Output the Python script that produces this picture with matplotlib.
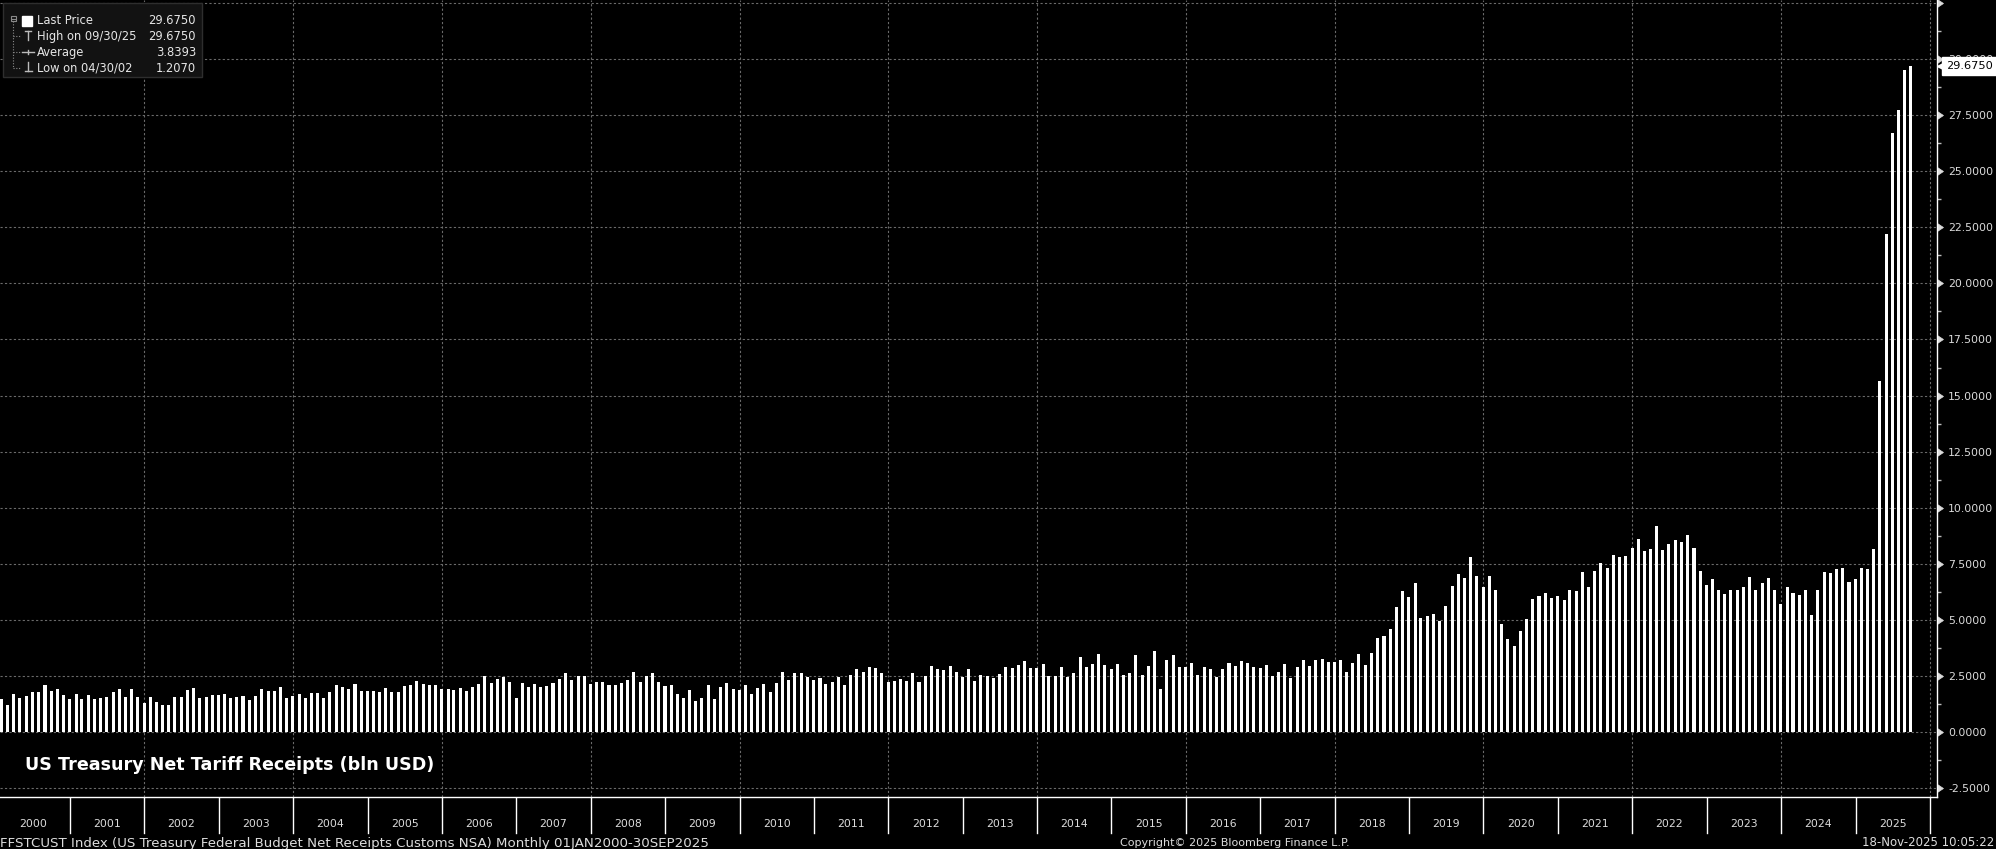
import numpy as np
import pandas as pd
import matplotlib
matplotlib.use("Agg")
import matplotlib.pyplot as plt
import matplotlib.dates as mdates
from matplotlib.ticker import MultipleLocator, FuncFormatter
from matplotlib.patches import Rectangle

# monthly net customs receipts, bln USD, Jan 2000 .. Sep 2025
vals_2000 = [1.48, 1.22, 1.71, 1.53, 1.62, 1.80, 1.80, 2.11, 1.84, 1.93, 1.66, 1.48]
vals_2001 = [1.71, 1.48, 1.66, 1.48, 1.53, 1.57, 1.80, 1.93, 1.57, 1.93, 1.57, 1.31]
vals_2002 = [1.57, 1.35, 1.24, 1.207, 1.57, 1.57, 1.89, 1.97, 1.53, 1.57, 1.66, 1.66]
vals_2003 = [1.71, 1.53, 1.57, 1.62, 1.44, 1.62, 1.93, 1.84, 1.84, 2.02, 1.53, 1.62]
vals_2004 = [1.71, 1.53, 1.75, 1.75, 1.53, 1.80, 2.11, 2.02, 1.93, 2.15, 1.84, 1.84]
vals_2005 = [1.84, 1.80, 1.97, 1.80, 1.80, 2.06, 2.11, 2.29, 2.15, 2.11, 2.11, 1.93]
vals_2006 = [1.93, 1.89, 1.97, 1.84, 2.02, 2.15, 2.51, 2.20, 2.38, 2.46, 2.24, 1.53]
vals_2007 = [2.20, 2.02, 2.15, 2.02, 2.06, 2.20, 2.38, 2.64, 2.33, 2.51, 2.51, 2.15]
vals_2008 = [2.24, 2.24, 2.11, 2.11, 2.20, 2.33, 2.69, 2.24, 2.51, 2.64, 2.24, 2.06]
vals_2009 = [2.11, 1.71, 1.53, 1.89, 1.40, 1.53, 2.11, 1.48, 2.02, 2.20, 1.93, 1.89]
vals_2010 = [2.11, 1.71, 1.97, 2.15, 1.80, 2.20, 2.69, 2.33, 2.64, 2.64, 2.46, 2.33]
vals_2011 = [2.42, 2.15, 2.24, 2.46, 2.11, 2.55, 2.82, 2.69, 2.91, 2.87, 2.64, 2.24]
vals_2012 = [2.29, 2.38, 2.29, 2.64, 2.24, 2.51, 2.95, 2.82, 2.78, 2.95, 2.69, 2.46]
vals_2013 = [2.82, 2.29, 2.55, 2.51, 2.42, 2.60, 2.91, 2.87, 3.00, 3.18, 2.87, 2.87]
vals_2014 = [3.04, 2.51, 2.51, 2.91, 2.46, 2.64, 3.36, 2.91, 3.04, 3.49, 3.00, 2.82]
vals_2015 = [3.04, 2.55, 2.64, 3.44, 2.55, 2.95, 3.62, 1.93, 3.22, 3.44, 2.91, 2.91]
vals_2016 = [3.09, 2.55, 2.91, 2.82, 2.46, 2.82, 3.09, 2.95, 3.18, 3.09, 2.91, 2.87]
vals_2017 = [3.00, 2.51, 2.69, 3.04, 2.42, 2.91, 3.22, 2.95, 3.22, 3.27, 3.13, 3.13]
vals_2018 = [3.22, 2.69, 3.09, 3.49, 3.00, 3.53, 4.20, 4.29, 4.60, 5.58, 6.30, 6.03]
vals_2019 = [6.65, 5.09, 5.18, 5.27, 4.96, 5.63, 6.52, 7.05, 6.87, 7.81, 6.96, 6.47]
vals_2020 = [6.96, 6.34, 4.83, 4.16, 3.85, 4.51, 5.05, 5.94, 6.07, 6.21, 5.98, 6.07]
vals_2021 = [5.89, 6.34, 6.30, 7.14, 6.47, 7.19, 7.54, 7.32, 7.90, 7.81, 7.85, 8.21]
vals_2022 = [8.61, 8.08, 8.17, 9.19, 8.12, 8.39, 8.57, 8.48, 8.79, 8.21, 7.19, 6.56]
vals_2023 = [6.85, 6.36, 6.14, 6.36, 6.36, 6.49, 6.94, 6.32, 6.67, 6.89, 6.32, 5.73]
vals_2024 = [6.49, 6.22, 6.10, 6.36, 5.24, 6.32, 7.16, 7.08, 7.26, 7.30, 6.71, 6.81]
vals_2025 = [7.34, 7.26, 8.18, 15.65, 22.18, 26.68, 27.70, 29.52, 29.675]

years = list(range(2000, 2026))
average_txt = "3.8393"
title = "US Treasury Net Tariff Receipts (bln USD)"
footer_left = ("FFSTCUST Index (US Treasury Federal Budget Net Receipts Customs NSA) "
               "Monthly 01JAN2000-30SEP2025")
footer_mid = "Copyright\u00a9 2025 Bloomberg Finance L.P."
footer_right = "18-Nov-2025 10:05:22"

values = np.array(vals_2000 + vals_2001 + vals_2002 + vals_2003 + vals_2004 + vals_2005
                  + vals_2006 + vals_2007 + vals_2008 + vals_2009 + vals_2010 + vals_2011
                  + vals_2012 + vals_2013 + vals_2014 + vals_2015 + vals_2016 + vals_2017
                  + vals_2018 + vals_2019 + vals_2020 + vals_2021 + vals_2022 + vals_2023
                  + vals_2024 + vals_2025)
months = pd.date_range("2000-01-31", periods=len(values), freq="ME")
x = mdates.date2num(months)

W, H = 1996, 849
fg = "#dcdcdc"
grid_c = "#6a6a6a"

fig = plt.figure(figsize=(W / 100, H / 100), dpi=100, facecolor="black")
ax = fig.add_axes([0, 52 / H, 1937 / W, 797 / H], facecolor="black")

ax.bar(x, values, width=15, color="white", zorder=3)

ax.set_xlim(mdates.date2num(pd.Timestamp("2000-01-23")), mdates.date2num(pd.Timestamp("2026-02-05")))
ax.set_ylim(-2.88, 32.62)

for s in ["left", "top"]:
    ax.spines[s].set_visible(False)
for s in ["right", "bottom"]:
    ax.spines[s].set_color("white")
    ax.spines[s].set_linewidth(1)

ax.yaxis.tick_right()
ax.yaxis.set_major_locator(MultipleLocator(2.5))
ax.yaxis.set_minor_locator(MultipleLocator(1.25))
# no label on the top tick, as on the terminal chart
ax.yaxis.set_major_formatter(FuncFormatter(lambda v, p: "" if v > 31 else f"{v:.4f}"))
ax.tick_params(axis="y", which="major", length=6, width=0.5, color=fg, labelcolor=fg,
               labelsize=7.8, pad=2)
ax.tick_params(axis="y", which="minor", length=3, width=1, color="#bbbbbb")
for t in ax.yaxis.get_major_ticks():
    t.tick2line.set_marker(9)  # caret pointing right
    t.tick2line.set_markerfacecolor(fg)

ax.xaxis.set_major_locator(mdates.YearLocator(2))
ax.tick_params(axis="x", which="both", bottom=False, labelbottom=False)
ax.set_axisbelow(True)
ax.grid(True, which="major", color=grid_c, linestyle=(0, (2, 2)), linewidth=0.8)

# last price tag
last = values[-1]
ax.text(1.0045, last, f"{last:.4f}", transform=ax.get_yaxis_transform(), ha="left",
        va="center", color="black", fontsize=8.2, zorder=10, clip_on=False,
        bbox=dict(boxstyle="square,pad=0.32", facecolor="white", edgecolor="white"))
ax.plot([1.0025], [last], marker="<", markersize=7, color="white",
        transform=ax.get_yaxis_transform(), clip_on=False, zorder=10)

# year band under the plot
band = fig.add_axes([0, 14 / H, 1937 / W, 38 / H], facecolor="black", sharex=ax)
band.set_ylim(0, 1)
band.axis("off")
for yr in years:
    band.axvline(mdates.date2num(pd.Timestamp(f"{yr + 1}-01-01")), ymin=0.04, ymax=1,
                 color="white", linewidth=1)
    band.text(mdates.date2num(pd.Timestamp(f"{yr}-07-02")), 0.29, str(yr),
              transform=band.get_xaxis_transform(), ha="center", va="center",
              color=fg, fontsize=7.8)

# title inside the plot
fig.text(25 / W, 1 - 765 / H, title, color="white", fontsize=12.6, fontweight="bold",
         ha="left", va="center")

# footer
fy = 1 - 843 / H
fig.text(0, fy, footer_left, color=fg, fontsize=9.6, ha="left", va="center")
fig.text(1120 / W, fy, footer_mid, color=fg, fontsize=8, ha="left", va="center")
fig.text(1 - 2 / W, fy, footer_right, color=fg, fontsize=8.5, ha="right", va="center")

# legend box, drawn in pixel coordinates
ov = fig.add_axes([0, 0, 1, 1])
ov.set_xlim(0, W)
ov.set_ylim(H, 0)
ov.axis("off")
ov.patch.set_alpha(0)

ov.add_patch(Rectangle((3, 3), 199, 74, facecolor="#121212", edgecolor="#2e2e2e", lw=1))
rows = [20.5, 36, 52, 68]
hi = int(np.argmax(values))
lo = int(np.argmin(values))
labels = ["Last Price", f"High on {months[hi]:%m/%d/%y}", "Average", f"Low on {months[lo]:%m/%d/%y}"]
nums = [f"{last:.4f}", f"{values[hi]:.4f}", average_txt, f"{values[lo]:.4f}"]
for ry, lab, num in zip(rows, labels, nums):
    ov.text(37, ry, lab, color="#e6e6e6", fontsize=8.3, ha="left", va="center")
    ov.text(196, ry, num, color="#e6e6e6", fontsize=8.3, ha="right", va="center")

tree = "#8a8a8a"
ov.add_patch(Rectangle((11, 16), 5, 5, facecolor="none", edgecolor=tree, lw=0.8))
ov.plot([12, 15], [18.5, 18.5], color=tree, lw=0.8)
ov.plot([13.5, 13.5], [21, 68], color=tree, lw=0.8, linestyle=(0, (1, 1.5)))
for ry in rows[1:]:
    ov.plot([13.5, 20], [ry, ry], color=tree, lw=0.8, linestyle=(0, (1, 1.5)))
ov.add_patch(Rectangle((22, 15.5), 10, 10, facecolor="white", edgecolor="white"))
icon = "#bbbbbb"
ov.plot([28.5, 28.5], [31, 40], color=icon, lw=1)
ov.plot([25.5, 31.5], [31, 31], color=icon, lw=1)
ov.plot([22, 34], [52, 52], color=icon, lw=1)
ov.plot([28, 28], [50, 54], color=icon, lw=1)
ov.plot([28.5, 28.5], [62, 71], color=icon, lw=1)
ov.plot([25, 32], [71, 71], color=icon, lw=1)

fig.savefig("out.png", dpi=100, facecolor="black")
